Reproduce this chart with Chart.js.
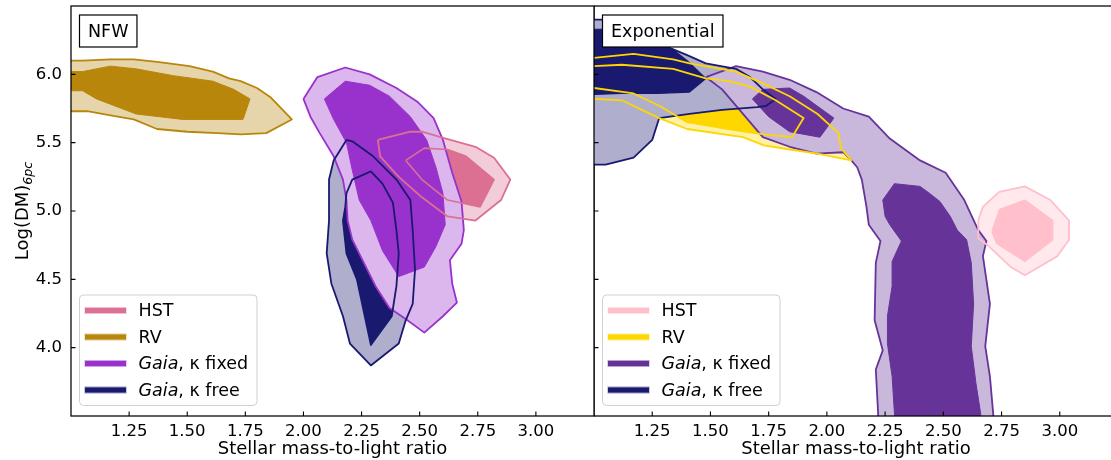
<!DOCTYPE html>
<html>
<head>
<meta charset="utf-8">
<script src="https://cdn.jsdelivr.net/npm/chart.js@4.4.1/dist/chart.umd.min.js"></script>
<style>
  html, body { margin: 0; padding: 0; background: #fff; overflow: hidden; }
  #wrap { position: relative; width: 1111px; height: 460px; overflow: hidden; }
  #nfwChart { position: absolute; left: 0; top: 0; }
  #expChart { position: absolute; left: 594px; top: 0; }
</style>
</head>
<body>
<div id="wrap">
  <canvas id="nfwChart" width="600" height="460"></canvas>
  <canvas id="expChart" width="530" height="460"></canvas>
</div>
<script>
const FONT = "'DejaVu Sans', 'Liberation Sans', sans-serif";

const xTicks = [1.25, 1.5, 1.75, 2.0, 2.25, 2.5, 2.75, 3.0];
const yTicks = [4.0, 4.5, 5.0, 5.5, 6.0];

const legendLabels = ["HST", "RV", "Gaia, κ fixed", "Gaia, κ free"];
const nfwColors = ["#db7093", "#b8860b", "#9932cc", "#191970"];
const expColors = ["#ffc0cb", "#ffd700", "#663399", "#191970"];

// contour outlines, [M/L, log DM] pairs (1 sigma = inner, 2 sigma = outer)
// NFW profile
const nfwHstOuter = [[2.32,5.52],[2.46,5.58],[2.51,5.58],[2.59,5.54],[2.74,5.47],[2.82,5.39],[2.89,5.23],[2.85,5.08],[2.74,4.93],[2.62,4.96],[2.51,5.10],[2.41,5.25],[2.33,5.40]];
const nfwHstInner = [[2.44,5.37],[2.52,5.46],[2.62,5.45],[2.70,5.40],[2.82,5.23],[2.76,5.03],[2.62,5.08],[2.51,5.23]];
const nfwRvOuter = [[0.95,6.10],[1.05,6.10],[1.17,6.11],[1.27,6.11],[1.38,6.09],[1.51,6.06],[1.61,6.02],[1.68,5.97],[1.73,5.95],[1.80,5.90],[1.86,5.83],[1.95,5.67],[1.84,5.57],[1.73,5.56],[1.63,5.57],[1.50,5.58],[1.37,5.60],[1.27,5.67],[1.17,5.70],[1.07,5.73],[0.95,5.73]];
const nfwRvInner = [[0.95,6.02],[1.05,6.02],[1.17,6.06],[1.28,6.04],[1.44,5.99],[1.61,5.95],[1.70,5.89],[1.77,5.82],[1.74,5.67],[1.48,5.67],[1.28,5.71],[1.11,5.82],[1.05,5.88],[0.95,5.88]];
const nfwFreeOuter = [[2.185,5.52],[2.21,5.51],[2.30,5.40],[2.40,5.23],[2.46,5.08],[2.47,4.86],[2.48,4.57],[2.47,4.32],[2.44,4.20],[2.41,4.03],[2.29,3.87],[2.20,4.03],[2.17,4.23],[2.12,4.47],[2.10,4.69],[2.11,4.93],[2.11,5.08],[2.11,5.23],[2.13,5.37]];
const nfwFreeInner = [[2.185,5.13],[2.21,5.23],[2.29,5.29],[2.34,5.20],[2.385,5.06],[2.40,4.86],[2.41,4.69],[2.40,4.45],[2.38,4.23],[2.29,4.02],[2.23,4.50],[2.185,4.69],[2.17,4.93],[2.18,5.03]];
const nfwFixedOuter = [[2.00,5.82],[2.06,5.98],[2.18,6.05],[2.285,6.00],[2.40,5.90],[2.49,5.80],[2.56,5.68],[2.60,5.52],[2.64,5.28],[2.68,5.07],[2.69,4.86],[2.68,4.76],[2.63,4.64],[2.64,4.47],[2.66,4.33],[2.60,4.23],[2.52,4.11],[2.44,4.21],[2.37,4.29],[2.31,4.45],[2.26,4.62],[2.21,4.79],[2.19,4.93],[2.185,5.08],[2.17,5.23],[2.13,5.40],[2.07,5.57],[2.03,5.69]];
const nfwFixedInner = [[2.09,5.82],[2.18,5.95],[2.285,5.92],[2.37,5.84],[2.46,5.69],[2.53,5.52],[2.57,5.32],[2.60,5.13],[2.61,4.90],[2.57,4.74],[2.52,4.59],[2.41,4.52],[2.34,4.71],[2.29,4.93],[2.24,5.08],[2.21,5.30],[2.185,5.50],[2.13,5.67]];

// exponential profile
const expHstOuter = [[2.65,4.93],[2.67,5.03],[2.74,5.14],[2.85,5.18],[2.96,5.08],[3.04,4.93],[3.04,4.79],[2.99,4.67],[2.85,4.53],[2.79,4.59],[2.69,4.75],[2.65,4.80]];
const expHstInner = [[2.71,4.86],[2.74,5.01],[2.85,5.08],[2.97,4.93],[2.97,4.79],[2.85,4.63],[2.73,4.76],[2.71,4.84]];
const expRvOuter = [[0.94,6.12],[1.00,6.12],[1.17,6.15],[1.34,6.11],[1.41,6.08],[1.61,6.02],[1.73,5.93],[1.84,5.84],[1.96,5.71],[2.05,5.57],[2.06,5.46],[2.105,5.37],[1.96,5.42],[1.84,5.45],[1.73,5.48],[1.64,5.54],[1.40,5.60],[1.28,5.68],[1.12,5.81],[1.00,5.82],[0.94,5.82]];
const expRvInner = [[0.94,6.06],[1.00,6.06],[1.12,6.07],[1.34,6.04],[1.48,5.97],[1.58,5.95],[1.67,5.91],[1.78,5.81],[1.90,5.68],[1.85,5.54],[1.73,5.56],[1.61,5.59],[1.40,5.65],[1.28,5.77],[1.17,5.86],[1.00,5.90],[0.94,5.90]];
const expFreeOuter = [[0.94,6.40],[1.07,6.40],[1.20,6.32],[1.33,6.19],[1.40,6.14],[1.48,6.08],[1.61,6.04],[1.67,5.98],[1.725,5.89],[1.78,5.82],[1.74,5.77],[1.70,5.76],[1.55,5.74],[1.41,5.71],[1.28,5.68],[1.25,5.52],[1.17,5.39],[1.05,5.34],[0.94,5.34]];
const expFreeInner = [[0.94,6.33],[1.07,6.33],[1.20,6.29],[1.34,6.18],[1.40,6.10],[1.48,5.97],[1.41,5.87],[1.27,5.86],[1.12,5.86],[0.94,5.85]];
const expFixedOuter = [[1.48,5.98],[1.61,6.06],[1.725,6.02],[1.84,5.96],[1.955,5.87],[2.07,5.75],[2.18,5.69],[2.27,5.53],[2.40,5.37],[2.51,5.28],[2.59,5.08],[2.65,4.86],[2.685,4.78],[2.67,4.67],[2.70,4.32],[2.68,4.01],[2.70,3.79],[2.714,3.52],[2.72,3.32],[2.22,3.32],[2.22,3.52],[2.21,3.84],[2.24,3.98],[2.205,4.20],[2.21,4.62],[2.23,4.78],[2.18,4.90],[2.17,5.03],[2.15,5.23],[2.13,5.32],[2.105,5.37],[2.07,5.43],[1.955,5.42],[1.84,5.47],[1.725,5.54],[1.625,5.74],[1.55,5.89]];
const expFixedInnerA = [[1.68,5.82],[1.725,5.89],[1.84,5.90],[1.90,5.84],[2.03,5.68],[1.97,5.54],[1.84,5.58],[1.75,5.69]];
const expFixedInnerB = [[2.29,5.20],[2.40,5.18],[2.44,5.13],[2.485,5.07],[2.53,4.96],[2.56,4.86],[2.60,4.79],[2.62,4.62],[2.63,4.32],[2.62,4.01],[2.64,3.74],[2.66,3.52],[2.67,3.32],[2.29,3.32],[2.29,3.52],[2.28,3.79],[2.26,4.03],[2.26,4.23],[2.28,4.45],[2.28,4.63],[2.32,4.78],[2.27,4.90],[2.25,4.96],[2.24,5.08]];

// blend a colour towards white (alpha over white background)
function tint(hex, a) {
	const n = parseInt(hex.slice(1), 16);
	const mix = (c) => Math.round(255 - a * (255 - c));
	return "rgb(" + mix(n >> 16) + "," + mix((n >> 8) & 255) + "," + mix(n & 255) + ")";
}

function level(points, color, fill, width) {
	const pts = points.map((p) => ({ x: p[0], y: p[1] }));
	pts.push(pts[0]);
	return {
		data: pts,
		showLine: true,
		borderColor: color,
		borderWidth: width,
		borderJoinStyle: "round",
		pointRadius: 0,
		tension: 0,
		clip: 0,
		fillColor: fill,
	};
}

// filled polygons first (in dataset order), outlines are drawn by the library afterwards
const contourFill = {
	id: "contourFill",
	beforeDatasetsDraw(chart) {
		const { ctx, chartArea } = chart;
		ctx.save();
		ctx.beginPath();
		ctx.rect(chartArea.left, chartArea.top, chartArea.right - chartArea.left, chartArea.bottom - chartArea.top);
		ctx.clip();
		chart.data.datasets.forEach((ds, i) => {
			const pts = chart.getDatasetMeta(i).data;
			ctx.beginPath();
			pts.forEach((p, k) => (k ? ctx.lineTo(p.x, p.y) : ctx.moveTo(p.x, p.y)));
			ctx.closePath();
			ctx.fillStyle = ds.fillColor;
			ctx.fill();
		});
		ctx.restore();
	},
};

function roundRect(ctx, x, y, w, h, r) {
	ctx.beginPath();
	ctx.moveTo(x + r, y);
	ctx.arcTo(x + w, y, x + w, y + h, r);
	ctx.arcTo(x + w, y + h, x, y + h, r);
	ctx.arcTo(x, y + h, x, y, r);
	ctx.arcTo(x, y, x + w, y, r);
	ctx.closePath();
}

function drawLabel(ctx, text, x, y) {
	const parts = text.startsWith("Gaia") ? [["Gaia", "italic "], [text.slice(4), ""]] : [[text, ""]];
	parts.forEach(([s, style]) => {
		ctx.font = style + "17.5px " + FONT;
		ctx.fillText(s, x, y);
		x += ctx.measureText(s).width;
	});
}

// frame, inward ticks, panel name, legend and y title
const panelDecor = {
	id: "panelDecor",
	afterDraw(chart, args, opts) {
		const { ctx, chartArea: a, scales } = chart;
		ctx.save();
		ctx.strokeStyle = "#000";
		ctx.lineWidth = 1.1;
		ctx.beginPath();
		xTicks.forEach((v) => {
			const px = scales.x.getPixelForValue(v);
			ctx.moveTo(px, a.bottom);
			ctx.lineTo(px, a.bottom - 4.5);
		});
		yTicks.forEach((v) => {
			const py = scales.y.getPixelForValue(v);
			ctx.moveTo(a.left, py);
			ctx.lineTo(a.left + 4.5, py);
		});
		ctx.stroke();
		ctx.lineWidth = 1.25;
		ctx.strokeRect(a.left, a.top, a.right - a.left, a.bottom - a.top);

		// panel name box
		ctx.font = "17.5px " + FONT;
		const tw = ctx.measureText(opts.name).width;
		const bx = a.left + 8.5, by = 15, bw = tw + 17, bh = 32;
		ctx.fillStyle = "#fff";
		ctx.fillRect(bx, by, bw, bh);
		ctx.lineWidth = 1.2;
		ctx.strokeRect(bx, by, bw, bh);
		ctx.fillStyle = "#000";
		ctx.textBaseline = "middle";
		ctx.fillText(opts.name, bx + 8.5, by + bh / 2 + 1);

		// legend
		const lx = a.left + 8.5, lw = 177.5, lh = 110.5, ly = a.bottom - 10.5 - lh;
		roundRect(ctx, lx, ly, lw, lh, 4);
		ctx.fillStyle = "rgba(255,255,255,0.8)";
		ctx.fill();
		ctx.strokeStyle = "#d0d0d0";
		ctx.lineWidth = 1;
		ctx.stroke();
		legendLabels.forEach((lab, i) => {
			const cy = ly + 15.5 + i * 26.5;
			ctx.fillStyle = opts.colors[i];
			ctx.globalAlpha = 0.45;
			ctx.fillRect(lx + 5, cy - 3.5, 42, 7);
			ctx.globalAlpha = 1;
			ctx.fillRect(lx + 5.5, cy - 2.5, 41, 5);
			ctx.fillStyle = "#000";
			drawLabel(ctx, lab, lx + 59, cy + 1);
		});

		if (opts.yTitle) {
			ctx.translate(28, (a.top + a.bottom) / 2);
			ctx.rotate(-Math.PI / 2);
			ctx.textBaseline = "alphabetic";
			ctx.font = "18px " + FONT;
			const w1 = ctx.measureText("Log(DM)").width;
			ctx.font = "italic 12.6px " + FONT;
			const w2 = ctx.measureText("6pc").width;
			const x0 = -(w1 + w2) / 2;
			ctx.font = "18px " + FONT;
			ctx.fillText("Log(DM)", x0, 0);
			ctx.font = "italic 12.6px " + FONT;
			ctx.fillText("6pc", x0 + w1, 4);
		}
		ctx.restore();
	},
};

function panelOptions(name, colors, showY) {
	return {
		responsive: false,
		animation: false,
		events: [],
		layout: { padding: { top: 6, right: 6, left: 0, bottom: 0 } },
		plugins: {
			legend: { display: false },
			tooltip: { enabled: false },
			panelDecor: { name: name, colors: colors, yTitle: showY },
		},
		scales: {
			x: {
				type: "linear",
				min: 1.0,
				max: 3.25,
				grid: { display: false, drawTicks: false },
				border: { display: false },
				afterBuildTicks: (s) => { s.ticks = xTicks.map((v) => ({ value: v })); },
				afterFit: (s) => {
					s.height = 44;
					s.paddingLeft = 0;
					s.paddingRight = 0;
				},
				ticks: {
					padding: 6,
					color: "#000",
					autoSkip: false,
					maxRotation: 0,
					font: { family: FONT, size: 16.5 },
					callback: (v) => Number(v).toFixed(2),
				},
				title: {
					display: true,
					text: "Stellar mass-to-light ratio",
					color: "#000",
					font: { family: FONT, size: 18 },
					padding: { top: 0, bottom: 0 },
				},
			},
			y: {
				type: "linear",
				min: 3.5,
				max: 6.5,
				display: showY,
				grid: { display: false, drawTicks: false },
				border: { display: false },
				afterBuildTicks: (s) => { s.ticks = yTicks.map((v) => ({ value: v })); },
				afterFit: (s) => {
					if (showY) s.width = 71;
					s.paddingTop = 0;
					s.paddingBottom = 0;
				},
				ticks: {
					padding: 9,
					color: "#000",
					font: { family: FONT, size: 16.5 },
					callback: (v) => Number(v).toFixed(1),
				},
			},
		},
	};
}

const [c0, c1, c2, c3] = nfwColors;
const nfwChart = new Chart(document.getElementById("nfwChart"), {
	type: "scatter",
	data: {
		datasets: [
			level(nfwHstOuter, c0, tint(c0, 0.35), 1.8),
			level(nfwHstInner, c0, c0, 1.6),
			level(nfwRvOuter, c1, tint(c1, 0.35), 1.8),
			level(nfwRvInner, c1, c1, 1.0),
			level(nfwFreeOuter, c3, tint(c3, 0.35), 1.8),
			level(nfwFreeInner, c3, c3, 1.8),
			level(nfwFixedOuter, c2, tint(c2, 0.35), 1.8),
			level(nfwFixedInner, c2, c2, 1.0),
		],
	},
	options: panelOptions("NFW", nfwColors, true),
	plugins: [contourFill, panelDecor],
});

const [e0, e1, e2, e3] = expColors;
const expChart = new Chart(document.getElementById("expChart"), {
	type: "scatter",
	data: {
		datasets: [
			level(expHstOuter, e0, tint(e0, 0.35), 1.8),
			level(expHstInner, e0, e0, 1.2),
			level(expRvOuter, e1, tint(e1, 0.35), 1.8),
			level(expRvInner, e1, e1, 1.8),
			level(expFreeOuter, e3, tint(e3, 0.35), 1.8),
			level(expFreeInner, e3, e3, 1.2),
			level(expFixedOuter, e2, tint(e2, 0.35), 1.8),
			level(expFixedInnerA, e2, e2, 1.0),
			level(expFixedInnerB, e2, e2, 1.0),
		],
	},
	options: panelOptions("Exponential", expColors, false),
	plugins: [contourFill, panelDecor],
});
</script>
</body>
</html>
